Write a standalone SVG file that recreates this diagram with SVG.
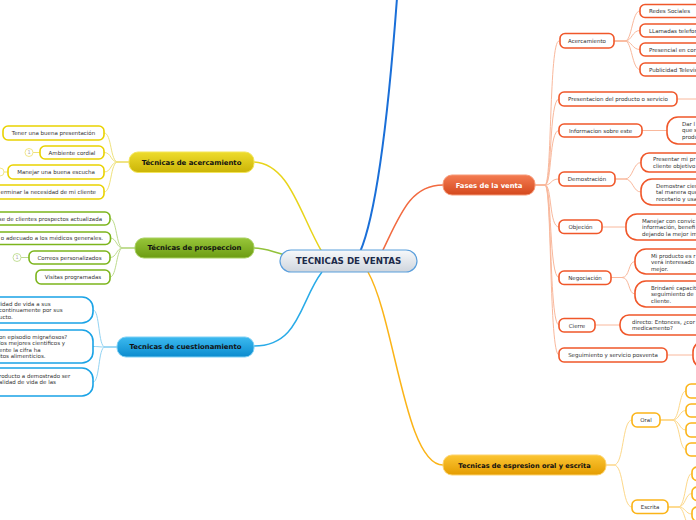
<svg xmlns="http://www.w3.org/2000/svg" width="696" height="520" viewBox="0 0 696 520">
<defs>
<linearGradient id="gC" x1="0" y1="0" x2="0" y2="1"><stop offset="0" stop-color="#f7f9fb"/><stop offset="1" stop-color="#cfd5dd"/></linearGradient>
<linearGradient id="gO" x1="0" y1="0" x2="0" y2="1"><stop offset="0" stop-color="#f47c52"/><stop offset="1" stop-color="#d4481d"/></linearGradient>
<linearGradient id="gY" x1="0" y1="0" x2="0" y2="1"><stop offset="0" stop-color="#eedc2e"/><stop offset="1" stop-color="#cbb406"/></linearGradient>
<linearGradient id="gG" x1="0" y1="0" x2="0" y2="1"><stop offset="0" stop-color="#98c63a"/><stop offset="1" stop-color="#6c9c12"/></linearGradient>
<linearGradient id="gB" x1="0" y1="0" x2="0" y2="1"><stop offset="0" stop-color="#3cbaf0"/><stop offset="1" stop-color="#0b8bce"/></linearGradient>
<linearGradient id="gA" x1="0" y1="0" x2="0" y2="1"><stop offset="0" stop-color="#fcc634"/><stop offset="1" stop-color="#e49c00"/></linearGradient>
</defs>
<style>
text{font-family:"DejaVu Sans","Liberation Sans",sans-serif;}
.t{font-size:5.5px;fill:#333;}
.c{text-anchor:middle;}
.e{text-anchor:end;}
.mt{font-size:6.9px;font-weight:bold;fill:#111;text-anchor:middle;}
.sY{fill:#fff;stroke:#e9d200;stroke-width:1.6;}
.sG{fill:#fff;stroke:#7cb51c;stroke-width:1.6;}
.sB{fill:#fff;stroke:#1aa3e6;stroke-width:1.6;}
.sO{fill:#fff;stroke:#f0572a;stroke-width:1.6;}
.sA{fill:#fff;stroke:#fbb418;stroke-width:1.6;}
.lY{fill:none;stroke:#efe27c;stroke-width:1;}
.lG{fill:none;stroke:#bddb8d;stroke-width:1;}
.lB{fill:none;stroke:#92d3f3;stroke-width:1;}
.lO{fill:none;stroke:#f9b89c;stroke-width:1;}
.lA{fill:none;stroke:#fdd889;stroke-width:1;}
.cir{fill:#fff;stroke-width:1;}
.n1{font-size:5px;fill:#aaa;text-anchor:middle;}
</style>
<g id="connectors">
<path d="M360 252 C376 215 388 120 397 -2" fill="none" stroke="#1a6fd8" stroke-width="2"/>
<path d="M382 252 C400 215 410 185 443 185" fill="none" stroke="#f26a40" stroke-width="1.5"/>
<path d="M322 252 C300 215 290 164 254 162" fill="none" stroke="#e8d41a" stroke-width="1.5"/>
<path d="M285 255 C270 251 265 248 254 248" fill="none" stroke="#92c23a" stroke-width="1.5"/>
<path d="M322 272 C300 300 300 346 254 346" fill="none" stroke="#29abe8" stroke-width="1.5"/>
<path d="M368 272 C395 320 405 465 443 465" fill="none" stroke="#fbb418" stroke-width="1.5"/>
<path class="lY" d="M129 162 L118 162 C110 162 112 133 104 133"/>
<path class="lY" d="M129 162 L118 162 C110 162 112 152.5 104 152.5"/>
<path class="lY" d="M129 162 L118 162 C110 162 112 172 104 172"/>
<path class="lY" d="M129 162 L118 162 C110 162 112 192 104 192"/>
<path class="lG" d="M135 248 L123 248 C116 248 117 218.5 110 218.5"/>
<path class="lG" d="M135 248 L123 248 C116 248 117 238 110 238"/>
<path class="lG" d="M135 248 L123 248 C116 248 117 257.5 110 257.5"/>
<path class="lG" d="M135 248 L123 248 C116 248 117 277 110 277"/>
<path class="lB" d="M117 347 L105 347 C98 347 100 310 93 310"/>
<path class="lB" d="M117 347 L105 347 C98 347 100 346.5 93 346.5"/>
<path class="lB" d="M117 347 L105 347 C98 347 100 382 93 382"/>
<path class="lO" d="M535 185 L545 185 C552 185 549 41 559 41"/>
<path class="lO" d="M535 185 L545 185 C552 185 549 99 559 99"/>
<path class="lO" d="M535 185 L545 185 C552 185 549 130.5 559 130.5"/>
<path class="lO" d="M535 185 L545 185 C552 185 550 179 559 179"/>
<path class="lO" d="M535 185 L545 185 C552 185 549 227 559 227"/>
<path class="lO" d="M535 185 L545 185 C552 185 549 277.5 559 277.5"/>
<path class="lO" d="M535 185 L545 185 C552 185 549 325 559 325"/>
<path class="lO" d="M535 185 L545 185 C552 185 549 355 559 355"/>
<path class="lO" d="M614 41 L625 41 C632 41 632 11 640 11"/>
<path class="lO" d="M614 41 L625 41 C632 41 632 30.5 640 30.5"/>
<path class="lO" d="M614 41 L625 41 C632 41 632 49.5 640 49.5"/>
<path class="lO" d="M614 41 L625 41 C632 41 632 69.5 640 69.5"/>
<path class="lO" d="M677 99 L700 99"/>
<path class="lO" d="M642 130.5 L667 130.5"/>
<path class="lO" d="M615 179 L625 179 C633 179 633 162.5 641 162.5"/>
<path class="lO" d="M615 179 L625 179 C633 179 633 192 641 192"/>
<path class="lO" d="M602 227 L626 227"/>
<path class="lO" d="M611 277.5 L622 277.5 C630 277.5 628 261.5 635 261.5"/>
<path class="lO" d="M611 277.5 L622 277.5 C630 277.5 628 294 635 294"/>
<path class="lO" d="M595 325 L620 325"/>
<path class="lO" d="M667 355 L693 355"/>
<path class="lA" d="M606 465 L614 465 C624 465 622 420 632 420"/>
<path class="lA" d="M606 465 L614 465 C624 465 622 507 632 507"/>
<path class="lA" d="M660 420 L672 420 C680 420 679 391 686 391"/>
<path class="lA" d="M660 420 L672 420 C680 420 679 410.5 686 410.5"/>
<path class="lA" d="M660 420 L672 420 C680 420 679 430 686 430"/>
<path class="lA" d="M660 420 L672 420 C680 420 679 449.5 686 449.5"/>
<path class="lA" d="M668 507 L678 507 C686 507 685 473.5 692 473.5"/>
<path class="lA" d="M668 507 L678 507 C686 507 685 493.5 692 493.5"/>
<path class="lA" d="M668 507 L678 507 C686 507 685 514 692 514"/>
<path class="lA" d="M668 507 L678 507 C686 507 685 535 698 535"/>
<path class="lY" d="M33 152.5 L40 152.5"/>
<path class="lY" d="M4 172 L8 172"/>
<path class="lG" d="M21 257.5 L29 257.5"/>
</g>
<g id="center">
<rect x="280" y="250" width="137" height="22" rx="11" fill="url(#gC)" stroke="#5b9fdc" stroke-width="1.2"/>
<text x="348.5" y="264.3" font-size="8.7" font-weight="bold" fill="#1c2a4a" text-anchor="middle">TECNICAS DE VENTAS</text>
</g>
<g id="acercamiento-main">
<rect x="129" y="152" width="125" height="20.5" rx="9" fill="url(#gY)" stroke="#f3e55a" stroke-width="1"/>
<text class="mt" x="191.5" y="164.6">Técnicas de acercamiento</text>
</g>
<g id="ya1"><rect class="sY" x="3" y="126" width="101" height="14" rx="5"/><text class="t c" x="53.5" y="135">Tener una buena presentación</text></g>
<g id="ya2"><rect class="sY" x="40" y="146" width="64" height="13" rx="5"/><text class="t c" x="72" y="154.5">Ambiente cordial</text>
<circle class="cir" cx="29" cy="152.5" r="4" stroke="#f2e78a"/><text class="n1" x="29" y="154.3">1</text></g>
<g id="ya3"><rect class="sY" x="8" y="165" width="96" height="14" rx="5"/><text class="t c" x="56" y="174">Manejar una buena escucha</text>
<circle class="cir" cx="0" cy="172" r="4" stroke="#f2e78a"/></g>
<g id="ya4"><rect class="sY" x="-40" y="185" width="144" height="14" rx="5"/><text class="t e" x="96" y="194">erminar la necesidad de mi cliente</text></g>
<g id="prospeccion-main">
<rect x="135" y="238" width="119" height="20" rx="9" fill="url(#gG)" stroke="#a8d060" stroke-width="1"/>
<text class="mt" x="194.5" y="250.4">Técnicas de prospeccion</text>
</g>
<g id="gp1"><rect class="sG" x="-40" y="212" width="150" height="13" rx="5"/><text class="t e" x="102" y="220.5">se de clientes prospectos actualizada</text></g>
<g id="gp2"><rect class="sG" x="-40" y="232" width="150.5" height="12.5" rx="5"/><text class="t e" x="103" y="240.3">o adecuado a los médicos generales.</text></g>
<g id="gp3"><rect class="sG" x="29" y="251" width="81" height="13" rx="5"/><text class="t c" x="69.5" y="259.5">Correos personalizados</text>
<circle class="cir" cx="17" cy="257.5" r="4" stroke="#c5e09a"/><text class="n1" x="17" y="259.3">1</text></g>
<g id="gp4"><rect class="sG" x="36" y="270" width="74" height="14" rx="5"/><text class="t c" x="73" y="279">Visitas programadas</text></g>
<g id="cuestionamiento-main">
<rect x="117" y="337" width="137" height="20" rx="9" fill="url(#gB)" stroke="#7fd0f5" stroke-width="1"/>
<text class="mt" x="185.5" y="349.4">Tecnicas de cuestionamiento</text>
</g>
<g id="bq1"><rect class="sB" x="-30" y="297" width="123" height="26" rx="11"/>
<text class="t" x="-1" y="305.5">lidad de vida a sus</text><text class="t" x="-1" y="312">continuamente por sus</text><text class="t" x="-1" y="318.5">ucto.</text></g>
<g id="bq2"><rect class="sB" x="-30" y="330" width="123" height="33" rx="11"/>
<text class="t" x="-1" y="338.5">on episodio migrañosos?</text><text class="t" x="-1" y="345">los mejores cientificos y</text><text class="t" x="-1" y="351.5">ente la cifra ha</text><text class="t" x="-1" y="358">itos alimenticios.</text></g>
<g id="bq3"><rect class="sB" x="-30" y="368" width="123" height="28" rx="11"/>
<text class="t" x="-1" y="377.5">roducto a demostrado ser</text><text class="t" x="-1" y="384">alidad de vida de las</text></g>
<g id="fases-main">
<rect x="443" y="175" width="92" height="20" rx="9" fill="url(#gO)" stroke="#f79a78" stroke-width="1"/>
<text x="489" y="187.6" font-size="6.8" font-weight="bold" fill="#fff" text-anchor="middle">Fases de la venta</text>
</g>
<g id="o-acerc"><rect class="sO" x="560" y="33.5" width="54" height="14.5" rx="5"/><text class="t c" x="587" y="42.7">Acercamiento</text></g>
<g id="o-redes"><rect class="sO" x="640" y="4.5" width="80" height="13" rx="5"/><text class="t" x="649" y="13">Redes Sociales</text></g>
<g id="o-llam"><rect class="sO" x="640" y="24" width="80" height="13" rx="5"/><text class="t" x="649" y="32.5">LLamadas telefon</text></g>
<g id="o-pres"><rect class="sO" x="640" y="43" width="80" height="13" rx="5"/><text class="t" x="649" y="51.5">Presencial en cor</text></g>
<g id="o-publ"><rect class="sO" x="640" y="63" width="80" height="13" rx="5"/><text class="t" x="649" y="71.5">Publicidad Televis</text></g>
<g id="o-present"><rect class="sO" x="559" y="92" width="118" height="14" rx="5"/><text class="t c" x="618" y="101">Presentacion del producto o servicio</text></g>
<g id="o-info"><rect class="sO" x="559" y="124" width="83" height="13" rx="5"/><text class="t c" x="600.5" y="132.5">Informacion sobre este</text></g>
<g id="o-info1"><rect class="sO" x="667" y="117" width="60" height="27" rx="11"/>
<text class="t" x="682" y="125.5">Dar l</text><text class="t" x="682" y="132">que s</text><text class="t" x="682" y="138.5">produ</text></g>
<g id="o-demo"><rect class="sO" x="559" y="172" width="56" height="14" rx="5"/><text class="t c" x="587" y="181">Demostración</text></g>
<g id="o-demo1"><rect class="sO" x="641" y="153" width="80" height="19" rx="8"/>
<text class="t" x="653" y="161">Presentar mi pr</text><text class="t" x="653" y="167.5">cliente objetivo</text></g>
<g id="o-demo2"><rect class="sO" x="641" y="179" width="80" height="26" rx="11"/>
<text class="t" x="656" y="187.5">Demostrar cien</text><text class="t" x="656" y="194">tal manera que</text><text class="t" x="656" y="200.5">recetario y usa</text></g>
<g id="o-obj"><rect class="sO" x="559" y="220" width="43" height="13.5" rx="5"/><text class="t c" x="580.5" y="229">Objeción</text></g>
<g id="o-obj1"><rect class="sO" x="626" y="214" width="90" height="26" rx="11"/>
<text class="t" x="642" y="222.5">Manejar con convic</text><text class="t" x="642" y="229">información, benefi</text><text class="t" x="642" y="235.5">dejando la mejor im</text></g>
<g id="o-neg"><rect class="sO" x="559" y="271" width="52" height="13.5" rx="5"/><text class="t c" x="585" y="280">Negociación</text></g>
<g id="o-neg1"><rect class="sO" x="635" y="249" width="80" height="25" rx="11"/>
<text class="t" x="651" y="257.5">Mi producto es r</text><text class="t" x="651" y="264">verá interesado</text><text class="t" x="651" y="270.5">mejor.</text></g>
<g id="o-neg2"><rect class="sO" x="635" y="281" width="80" height="26" rx="11"/>
<text class="t" x="651" y="289.5">Brindaré capacit</text><text class="t" x="651" y="296">seguimiento de</text><text class="t" x="651" y="302.5">cliente.</text></g>
<g id="o-cierre"><rect class="sO" x="559" y="318.5" width="36" height="13.5" rx="5"/><text class="t c" x="577" y="327.5">Cierre</text></g>
<g id="o-cierre1"><rect class="sO" x="620" y="315" width="100" height="20" rx="9"/>
<text class="t" x="632" y="323.5">directo: Entonces, ¿cor</text><text class="t" x="632" y="330">medicamento?</text></g>
<g id="o-seg"><rect class="sO" x="559" y="348" width="108" height="14" rx="5"/><text class="t c" x="613" y="357">Seguimiento y servicio posventa</text></g>
<g id="o-seg1"><rect class="sO" x="693" y="341" width="40" height="27" rx="11"/></g>
<g id="espresion-main">
<rect x="443" y="455" width="163" height="20" rx="9" fill="url(#gA)" stroke="#fdd36e" stroke-width="1"/>
<text x="524.5" y="467.5" font-size="6.6" font-weight="bold" fill="#111" text-anchor="middle">Tecnicas de espresion oral y escrita</text>
</g>
<g id="a-oral"><rect class="sA" x="632" y="413" width="28" height="14" rx="5"/><text class="t c" x="646" y="422">Oral</text></g>
<g id="a-o1"><rect class="sA" x="686" y="384" width="40" height="14" rx="5"/></g>
<g id="a-o2"><rect class="sA" x="686" y="404" width="40" height="13" rx="5"/></g>
<g id="a-o3"><rect class="sA" x="686" y="423" width="40" height="14" rx="5"/></g>
<g id="a-o4"><rect class="sA" x="686" y="443" width="40" height="13" rx="5"/></g>
<g id="a-escrita"><rect class="sA" x="632" y="500" width="36" height="13.5" rx="5"/><text class="t c" x="650" y="509">Escrita</text></g>
<g id="a-e1"><rect class="sA" x="692" y="467" width="40" height="13.5" rx="5"/></g>
<g id="a-e2"><rect class="sA" x="692" y="487" width="40" height="13.5" rx="5"/></g>
<g id="a-e3"><rect class="sA" x="692" y="507" width="40" height="14" rx="5"/></g>
</svg>
